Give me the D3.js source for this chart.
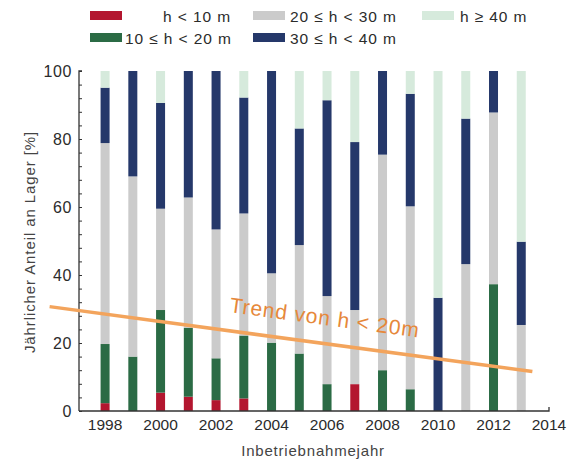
<!DOCTYPE html>
<html>
<head>
<meta charset="utf-8">
<script src="https://cdn.jsdelivr.net/npm/d3@7"></script>
<style>
  body { margin: 0; background: #fff; }
  text { font-family: "Liberation Sans", Arial, sans-serif; fill: #2b2b2b; }
</style>
</head>
<body>
<div class="chart"></div>
<script>
var w = 574;
var h = 463;

// data (share in % per height class)
var years   = [1998, 1999, 2000, 2001, 2002, 2003, 2004, 2005, 2006, 2007, 2008, 2009, 2010, 2011, 2012, 2013];
var hLt10   = [2.3, 0, 5.4, 4.2, 3.2, 3.7, 0, 0, 0, 7.9, 0, 0, 0, 0, 0, 0];
var h10to20 = [17.4, 16.0, 24.3, 20.3, 12.3, 18.5, 20.1, 16.9, 7.9, 0, 12.0, 6.4, 0, 0, 37.3, 0];
var h20to30 = [59.1, 53.0, 29.8, 38.3, 37.9, 35.9, 20.4, 31.9, 25.9, 21.8, 63.4, 53.8, 0, 43.2, 50.5, 25.3];
var h30to40 = [16.3, 31.0, 31.1, 37.2, 46.6, 34.1, 59.5, 34.3, 57.6, 49.4, 24.6, 33.1, 33.3, 42.8, 12.2, 24.5];
var hGe40   = [4.9, 0, 9.4, 0, 0, 7.8, 0, 16.9, 8.6, 20.9, 0, 6.7, 66.7, 14.0, 0, 50.2];

var keys   = ["a", "b", "c", "d", "e"];
var labels = ["h < 10 m", "10 \u2264 h < 20 m", "20 \u2264 h < 30 m", "30 \u2264 h < 40 m", "h \u2265 40 m"];
var colors = ["#b3162f", "#2b6b45", "#cbcbcb", "#25386a", "#d6eadc"];

var yTicks = [0, 20, 40, 60, 80, 100];
var xTicks = [1998, 2000, 2002, 2004, 2006, 2008, 2010, 2012, 2014];

var trendYears  = [1996.0, 2013.4];
var trendValues = [30.7, 11.6];

var table = years.map(function(y, i) {
    return {year: y, a: hLt10[i], b: h10to20[i], c: h20to30[i], d: h30to40[i], e: hGe40[i]};
});

var x = d3.scaleLinear()
          .domain([1997.06, 2014])
          .range([79, 549]);

var y = d3.scaleLinear()
          .domain([0, 100])
          .range([411, 71]);

var color = d3.scaleOrdinal()
              .domain(keys)
              .range(colors);

var svg = d3.select('.chart')
            .append("svg")
            .attr("width", w)
            .attr("height", h);

var series = d3.stack().keys(keys)(table);

svg.append("g")
   .selectAll("g")
   .data(series)
   .enter()
   .append("g")
   .attr("fill", function(d) { return color(d.key); })
   .selectAll("rect")
   .data(function(d) { return d; })
   .enter()
   .append("rect")
   .attr("x", function(d) { return x(d.data.year) - 4.5; })
   .attr("width", 9)
   .attr("y", function(d) { return y(d[1]); })
   .attr("height", function(d) { return Math.max(0, y(d[0]) - y(d[1])); });

// y axis with minor ticks every 4 %
var yAxis = d3.axisRight(y)
              .tickValues(d3.range(0, 101, 4))
              .tickSize(3)
              .tickFormat("");
svg.append("g")
   .attr("transform", "translate(79,0)")
   .call(yAxis)
   .call(function(g) {
       g.select(".domain").attr("stroke", "#333").attr("stroke-width", 1.3).attr("d", "M3,71H0V411");
       g.selectAll(".tick line").attr("stroke", "#333");
   });

svg.append("g")
   .selectAll("text")
   .data(yTicks)
   .enter()
   .append("text")
   .attr("x", 72)
   .attr("y", function(d) { return y(d); })
   .attr("dy", "0.36em")
   .attr("text-anchor", "end")
   .style("font-size", "16px")
   .style("letter-spacing", "0.6px")
   .text(function(d) { return d; });

// x axis: baseline only, with the end tick
svg.append("path")
   .attr("d", "M" + x(1997.06) + "," + y(0) + "H" + x(2014) + "V" + (y(0) - 4))
   .attr("fill", "none")
   .attr("stroke", "#333")
   .attr("stroke-width", 1.3);

svg.append("g")
   .selectAll("text")
   .data(xTicks)
   .enter()
   .append("text")
   .attr("x", function(d) { return x(d); })
   .attr("y", 430)
   .attr("text-anchor", "middle")
   .style("font-size", "15.5px")
   .text(function(d) { return d; });

svg.append("text")
   .attr("x", 313)
   .attr("y", 456)
   .attr("text-anchor", "middle")
   .style("font-size", "15px")
   .style("letter-spacing", "0.8px")
   .style("fill", "#444")
   .text("Inbetriebnahmejahr");

svg.append("text")
   .attr("transform", "translate(35,242) rotate(-90)")
   .attr("text-anchor", "middle")
   .style("font-size", "15px")
   .style("letter-spacing", "0.9px")
   .style("fill", "#444")
   .text("J\u00e4hrlicher Anteil an Lager [%]");

// trend line
var line = d3.line()
             .x(function(d) { return x(d[0]); })
             .y(function(d) { return y(d[1]); });

svg.append("path")
   .datum(trendYears.map(function(t, i) { return [t, trendValues[i]]; }))
   .attr("d", line)
   .attr("fill", "none")
   .attr("stroke", "#f3a45c")
   .attr("stroke-width", 3.5);

var angle = Math.atan2(y(trendValues[1]) - y(trendValues[0]), x(trendYears[1]) - x(trendYears[0])) * 180 / Math.PI;
svg.append("text")
   .attr("transform", "translate(229,312) rotate(" + angle + ")")
   .style("font-size", "21px")
   .style("letter-spacing", "0.9px")
   .style("fill", "#e6883a")
   .text("Trend von h < 20m");

// legend
var legendPos = [
    {sx: 90, tx: 163, y: 16},
    {sx: 90, tx: 125, y: 38},
    {sx: 253, tx: 290, y: 16},
    {sx: 253, tx: 290, y: 38},
    {sx: 422, tx: 460, y: 16}
];

var legend = svg.append("g")
                .selectAll("g")
                .data(keys)
                .enter()
                .append("g");

legend.append("rect")
      .attr("x", function(d, i) { return legendPos[i].sx; })
      .attr("y", function(d, i) { return legendPos[i].y - 5; })
      .attr("width", 32)
      .attr("height", 9)
      .attr("fill", function(d) { return color(d); });

legend.append("text")
      .attr("x", function(d, i) { return legendPos[i].tx; })
      .attr("y", function(d, i) { return legendPos[i].y; })
      .attr("dy", "0.36em")
      .style("font-size", "15.5px")
      .style("letter-spacing", "0.9px")
      .text(function(d, i) { return labels[i]; });
</script>
</body>
</html>
